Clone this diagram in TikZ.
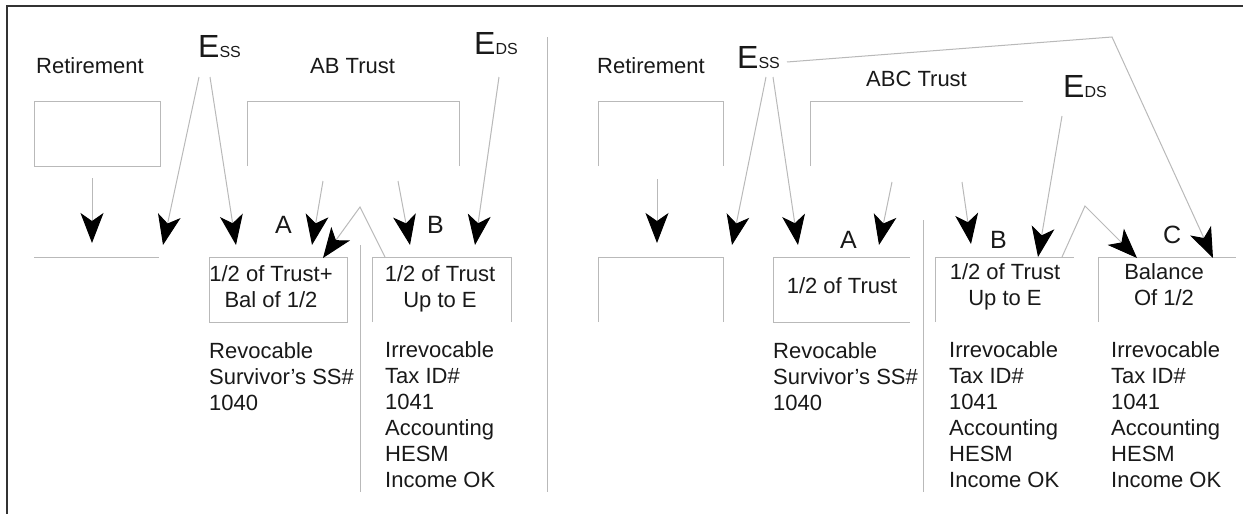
\documentclass[tikz,border=0pt]{standalone}
\usepackage{fontspec}
\setmainfont{Liberation Sans}
\usetikzlibrary{arrows.meta}
\newcommand{\Esub}[1]{{\fontsize{32}{32}\selectfont E}{\fontsize{16}{16}\selectfont #1}}

\begin{document}
\begin{tikzpicture}[x=1pt, y=-1pt,
	gline/.style = {draw=gray!55, line width=1pt},
	arr/.style = {gray!55, line width=1pt, -{Stealth[length=30pt, width=23pt, inset=8pt, color=black, fill=black]}},
	txt/.style = {inner sep=0pt, anchor=base west, text=black!90, font=\fontsize{22}{26}\selectfont},
	ctxt/.style = {txt, anchor=base, align=center},
	ltr/.style = {txt, font=\fontsize{25}{25}\selectfont}]
	\useasboundingbox (0,0) rectangle (1243,514);
	\draw[line width=2.5pt, black!80] (7,514) -- (7,6) -- (1243,6);
	
	% left: AB trust
	\node[txt] (retL) at (36,73) {Retirement};
	\node[txt] (essL) at (198,57) {\Esub{SS}};
	\node[txt] (abL) at (310,73) {AB Trust};
	\node[txt] (edsL) at (474,54) {\Esub{DS}};
	\node[ltr] (labAL) at (275,233) {A};
	\node[ltr] (labBL) at (427,233) {B};
	\node[ctxt] (trustAL) at (271,307) {1/2 of Trust+\\ Bal of 1/2};
	\node[ctxt] (trustBL) at (440,307) {1/2 of Trust\\ Up to E};
	\node[txt, align=left] (revL) at (209,410) {Revocable\\Survivor's SS\#\\1040};
	\node[txt, align=left] (irrL) at (385,487) {Irrevocable\\Tax ID\#\\1041\\Accounting\\HESM\\Income OK};
	
	\draw[gline] (34,101) rectangle (160,166);
	\draw[gline] (247,166) -- (247,101) -- (459,101) -- (459,166);
	\draw[gline] (34,257) -- (159,257);
	\draw[gline] (209,257) rectangle (347,322);
	\draw[gline] (372,322) -- (372,257) -- (511,257) -- (511,322);
	\draw[gline] (360,245) -- (360,492);
	\draw[gline] (547,37) -- (547,492);
	
	\coordinate (retLs) at (92,178);   \coordinate (retLt) at (92,243);
	\coordinate (essLa) at (199,77);   \coordinate (essLat) at (163,245);
	\coordinate (essLb) at (210,77);   \coordinate (essLbt) at (236,245);
	\coordinate (abLa) at (323,181);   \coordinate (abLat) at (312,245);
	\coordinate (abLb) at (398,181);   \coordinate (abLbt) at (410,245);
	\coordinate (edsLs) at (499,77);   \coordinate (edsLt) at (475,245);
	\coordinate (balLs) at (385,257);  \coordinate (peakL) at (360,207);
	\coordinate (balLt) at (323,258);
	
	\path[arr]
	(retLs) edge (retLt)
	(essLa) edge (essLat)
	(essLb) edge (essLbt)
	(abLa)  edge (abLat)
	(abLb)  edge (abLbt)
	(edsLs) edge (edsLt)
	;
	\draw[arr] (balLs) -- (peakL) -- (balLt);
	
	% right: ABC trust
	\node[txt] (retR) at (597,73) {Retirement};
	\node[txt] (essR) at (737,68) {\Esub{SS}};
	\node[txt] (abcR) at (866,86) {ABC Trust};
	\node[txt] (edsR) at (1063,97) {\Esub{DS}};
	\node[ltr] (labAR) at (840,248) {A};
	\node[ltr] (labBR) at (990,248) {B};
	\node[ltr] (labCR) at (1163,243) {C};
	\node[ctxt] (trustAR) at (842,293) {1/2 of Trust};
	\node[ctxt] (trustBR) at (1005,305) {1/2 of Trust\\ Up to E};
	\node[ctxt] (trustCR) at (1164,305) {Balance\\ Of 1/2};
	\node[txt, align=left] (revR) at (773,410) {Revocable\\Survivor's SS\#\\1040};
	\node[txt, align=left] (irrBR) at (949,487) {Irrevocable\\Tax ID\#\\1041\\Accounting\\HESM\\Income OK};
	\node[txt, align=left] (irrCR) at (1111,487) {Irrevocable\\Tax ID\#\\1041\\Accounting\\HESM\\Income OK};
	
	\draw[gline] (598,166) -- (598,101) -- (723,101) -- (723,166);
	\draw[gline] (810,166) -- (810,101) -- (1023,101);
	\draw[gline] (598,322) -- (598,257) -- (723,257) -- (723,322);
	\draw[gline] (910,257) -- (773,257) -- (773,322) -- (910,322);
	\draw[gline] (935,322) -- (935,257) -- (1074,257);
	\draw[gline] (1098,322) -- (1098,257) -- (1236,257);
	\draw[gline] (923,220) -- (923,492);
	
	\coordinate (retRs) at (657,179);  \coordinate (retRt) at (657,243);
	\coordinate (essRa) at (766,77);   \coordinate (essRat) at (732,245);
	\coordinate (essRb) at (773,77);   \coordinate (essRbt) at (798,245);
	\coordinate (essRc) at (787,62);   \coordinate (peakEss) at (1112,37);
	\coordinate (essRct) at (1213,258);
	\coordinate (abcRa) at (892,182);  \coordinate (abcRat) at (879,245);
	\coordinate (abcRb) at (962,182);  \coordinate (abcRbt) at (971,244);
	\coordinate (edsRs) at (1062,116); \coordinate (edsRt) at (1038,257);
	\coordinate (balRs) at (1062,257); \coordinate (peakR) at (1085,206);
	\coordinate (balRt) at (1137,258);
	
	\path[arr]
	(retRs) edge (retRt)
	(essRa) edge (essRat)
	(essRb) edge (essRbt)
	(abcRa) edge (abcRat)
	(abcRb) edge (abcRbt)
	(edsRs) edge (edsRt)
	;
	\draw[arr] (essRc) -- (peakEss) -- (essRct);
	\draw[arr] (balRs) -- (peakR) -- (balRt);
\end{tikzpicture}
\end{document}
